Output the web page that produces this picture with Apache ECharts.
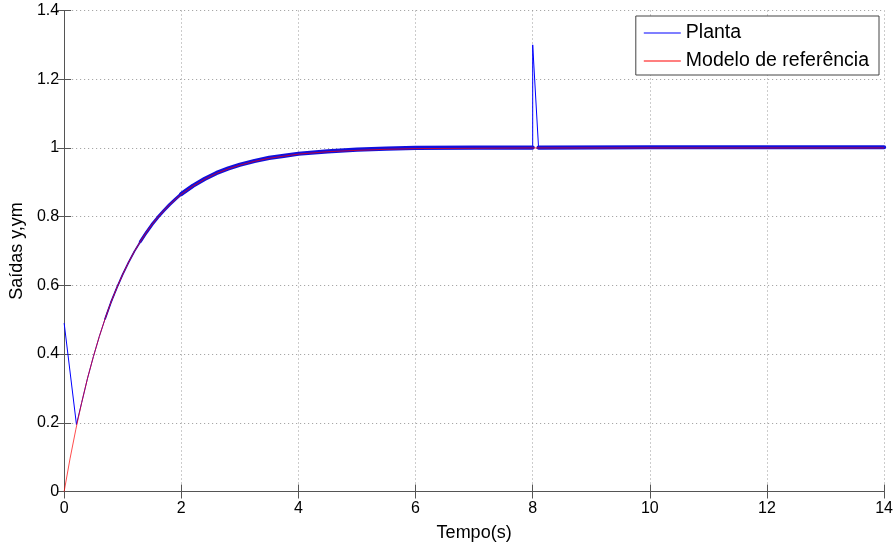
<!DOCTYPE html>
<html>
<head>
<meta charset="utf-8">
<script src="https://cdn.jsdelivr.net/npm/echarts@6/dist/echarts.min.js"></script>
<style>
  html, body { margin: 0; padding: 0; background: #fff; }
  #chart { width: 896px; height: 549px; }
</style>
</head>
<body>
<div id="chart"></div>
<script>
// tempo e saidas
var refT = [0, 0.1, 0.2, 0.3, 0.4, 0.5, 0.6, 0.7, 0.8, 0.9, 1.0, 1.1, 1.2, 1.3, 1.4, 1.5, 1.6, 1.7, 1.8, 1.9, 2.0, 2.2, 2.4, 2.6, 2.8, 3.0, 3.25, 3.5, 3.75, 4.0, 4.5, 5.0, 5.5, 6.0, 7.0, 8.0, 10, 12, 14];
var refY = [0, 0.095, 0.181, 0.259, 0.330, 0.393, 0.451, 0.503, 0.551, 0.593, 0.632, 0.667, 0.699, 0.727, 0.753, 0.777, 0.798, 0.817, 0.835, 0.850, 0.865, 0.889, 0.909, 0.926, 0.939, 0.950, 0.961, 0.970, 0.976, 0.982, 0.989, 0.993, 0.996, 0.998, 0.999, 1.0, 1.0, 1.0, 1.0];

var plantT = [0, 0.21, 0.3, 0.4, 0.5, 0.6, 0.7, 0.8, 0.9, 1.0, 1.1, 1.2, 1.3, 1.4, 1.5, 1.6, 1.7, 1.8, 1.9, 2.0, 2.2, 2.4, 2.6, 2.8, 3.0, 3.25, 3.5, 3.75, 4.0, 4.5, 5.0, 5.5, 6.0, 7.0, 8.0, 8.0, 8.1, 10, 12, 14];
var plantY = [0.49, 0.195, 0.259, 0.330, 0.393, 0.451, 0.503, 0.551, 0.593, 0.632, 0.667, 0.699, 0.727, 0.753, 0.777, 0.798, 0.817, 0.835, 0.851, 0.866, 0.890, 0.910, 0.927, 0.940, 0.951, 0.962, 0.971, 0.977, 0.983, 0.990, 0.995, 0.998, 1.0, 1.001, 1.001, 1.30, 1.001, 1.002, 1.002, 1.002];

var xTicks = [0, 2, 4, 6, 8, 10, 12, 14];
var yTicks = [0, 0.2, 0.4, 0.6, 0.8, 1, 1.2, 1.4];

var font = "'Liberation Sans', Arial, Helvetica, sans-serif";

var refData = [];
for (var i = 0; i < refT.length; i++) refData.push([refT[i], refY[i]]);

// faixa grossa (oscilacao rapida da planta), sem o pico em t=8
function band(t0, t1) {
    var out = [];
    for (var i = 0; i < plantT.length; i++) {
        if (plantT[i] < t0 || plantT[i] > t1) continue;
        out.push([plantT[i], plantY[i] < 1.1 ? plantY[i] : null]);
    }
    return out;
}

var plantData = [];
for (var i = 0; i < plantT.length; i++) plantData.push([plantT[i], plantY[i]]);

var myChart = echarts.init(document.getElementById('chart'));
var axisCol = '#555';
var gridLine = { show: true, lineStyle: { type: [1, 3], color: '#999', width: 1 } };

function bandSeries(data, w) {
    return {
        name: 'Planta', type: 'line', data: data,
        symbol: 'none', connectNulls: false,
        lineStyle: { color: '#1010dd', width: w, cap: 'round' },
        itemStyle: { color: '#0000ff' }
    };
}

var option = {
    animation: false,
    backgroundColor: '#fff',
    textStyle: { fontFamily: font },
    grid: { left: 63.5, right: 10.5, top: 10.5, bottom: 57.5, containLabel: false },
    legend: {
        orient: 'vertical',
        right: 17,
        top: 16,
        align: 'left',
        data: ['Planta', 'Modelo de referência'],
        icon: 'rect',
        backgroundColor: '#fff',
        borderColor: '#444',
        borderWidth: 1,
        borderRadius: 0,
        padding: [7, 10, 4, 8],
        itemWidth: 37,
        itemHeight: 1,
        itemGap: 8,
        textStyle: { fontSize: 19.5, color: '#000', fontFamily: font, lineHeight: 20 }
    },
    xAxis: [{
        type: 'value', min: 0, max: 14, interval: 2,
        name: 'Tempo(s)', nameLocation: 'middle', nameGap: 33,
        nameTextStyle: { fontSize: 18, color: '#000', fontFamily: font },
        axisLine: { show: true, onZero: false, lineStyle: { color: axisCol } },
        axisTick: { show: true, inside: true, length: 7, lineStyle: { color: axisCol } },
        axisLabel: { fontSize: 16, color: '#000', margin: 9, fontFamily: font },
        splitLine: gridLine
    }, {
        type: 'value', min: 0, max: 14, interval: 2, position: 'top',
        axisLine: { show: true, lineStyle: { color: axisCol } },
        axisTick: { show: true, inside: true, length: 7, lineStyle: { color: axisCol } },
        axisLabel: { show: false },
        splitLine: { show: false }
    }],
    yAxis: [{
        type: 'value', min: 0, max: 1.4, interval: 0.2,
        name: 'Saídas y,ym', nameLocation: 'middle', nameGap: 30,
        nameTextStyle: { fontSize: 18, color: '#000', fontFamily: font },
        axisLine: { show: true, onZero: false, lineStyle: { color: axisCol } },
        axisTick: { show: true, inside: true, length: 7, lineStyle: { color: axisCol } },
        axisLabel: {
            fontSize: 16, color: '#000', margin: 5, fontFamily: font,
            formatter: function (v) { return String(Math.round(v * 10) / 10); }
        },
        splitLine: gridLine
    }, {
        type: 'value', min: 0, max: 1.4, interval: 0.2, position: 'right',
        axisLine: { show: true, lineStyle: { color: axisCol } },
        axisTick: { show: true, inside: true, length: 7, lineStyle: { color: axisCol } },
        axisLabel: { show: false },
        splitLine: { show: false }
    }],
    series: [
        {
            name: 'Planta', type: 'line', data: plantData,
            symbol: 'none',
            lineStyle: { color: '#0000ff', width: 1 },
            itemStyle: { color: '#0000ff' }
        },
        bandSeries(band(0.7, 1.5), 1.8),
        bandSeries(band(1.3, 2.2), 3),
        bandSeries(band(2.0, 14), 4.2),
        {
            name: 'Modelo de referência', type: 'line', data: refData,
            symbol: 'none',
            lineStyle: { color: '#ff0000', width: 1, opacity: 0.7 },
            itemStyle: { color: '#ff0000' }
        }
    ]
};
myChart.setOption(option);
</script>
</body>
</html>
